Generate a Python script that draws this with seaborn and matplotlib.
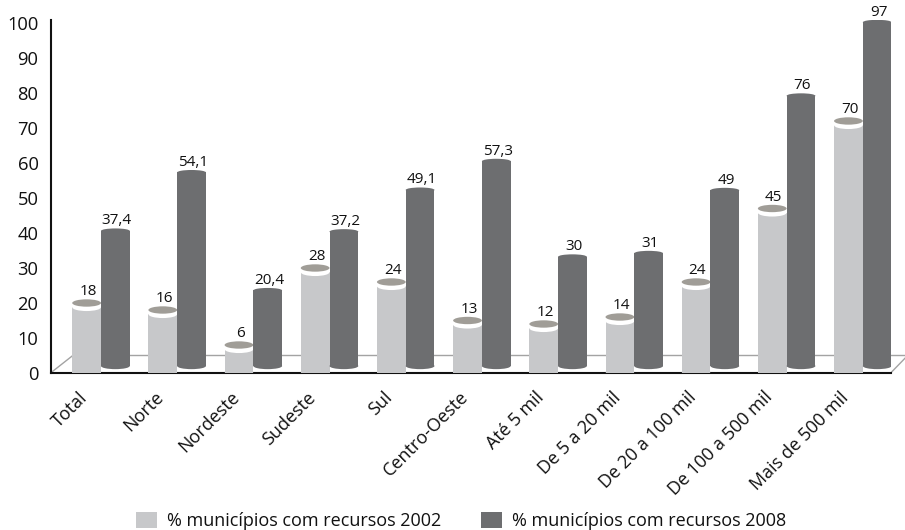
import matplotlib
matplotlib.use("Agg")
import matplotlib.pyplot as plt
from matplotlib.patches import Ellipse
from matplotlib.transforms import ScaledTranslation
import pandas as pd
import seaborn as sns

categories = ["Total", "Norte", "Nordeste", "Sudeste", "Sul", "Centro-Oeste", "Até 5 mil",
              "De 5 a 20 mil", "De 20 a 100 mil", "De 100 a 500 mil", "Mais de 500 mil"]
values_2002 = [18, 16, 6, 28, 24, 13, 12, 14, 24, 45, 70]
values_2008 = [37.4, 54.1, 20.4, 37.2, 49.1, 57.3, 30, 31, 49, 76, 97]
series_names = ["% municípios com recursos 2002", "% municípios com recursos 2008"]

LIGHT, DARK, CAP = "#c7c8ca", "#6d6e70", "#a09d97"

sns.set_theme(style="white")
plt.rcParams["font.family"] = ["Open Sans", "DejaVu Sans"]

df = pd.DataFrame({
    "cat": categories * 2,
    "val": values_2002 + values_2008,
    "serie": [series_names[0]] * len(categories) + [series_names[1]] * len(categories),
})

fig = plt.figure(figsize=(9.05, 5.30), dpi=100)
ax = fig.add_axes([51 / 905, (530 - 373) / 530, 840 / 905, 353 / 530])
sns.barplot(data=df, x="cat", y="val", hue="serie", order=categories, hue_order=series_names,
            palette=[LIGHT, DARK], width=0.755, errorbar=None, saturation=1, linewidth=0, ax=ax)

ax.set_xlim(-0.656, 10.37)
ax.set_ylim(0, 100.85)
ax.set_yticks(range(0, 101, 10))
ax.set_xlabel("")
ax.set_ylabel("")
sns.despine(ax=ax)
for s in ("left", "bottom"):
    ax.spines[s].set_color("#111111")
    ax.spines[s].set_linewidth(1.5)
    ax.spines[s].set_zorder(1.5)
ax.tick_params(axis="y", length=0, labelsize=13.2, pad=9, labelcolor="#111111")
ax.tick_params(axis="x", length=0, pad=11)
ax.set_xticks(range(len(categories)))
ax.set_xticklabels(categories, rotation=45, ha="right", va="top", rotation_mode="anchor",
                   fontsize=13, color="#111111")
shift = ScaledTranslation(-23 / 100, 0, fig.dpi_scale_trans)
for t in ax.get_xticklabels():
    t.set_transform(t.get_transform() + shift)

# perspective floor
FLOOR = 5.0
ax.plot([-0.656, -0.37], [0.1, FLOOR], color="#a3a3a3", lw=1, zorder=0.5, clip_on=False)
ax.plot([-0.37, 10.7], [FLOOR, FLOOR], color="#a3a3a3", lw=1, zorder=0.5, clip_on=False)
ax.plot([10.37, 10.7], [0.1, 7.5], color="#a3a3a3", lw=1, zorder=0.5, clip_on=False)

light_bars, dark_bars = ax.containers[0], ax.containers[1]

for bar, v in zip(light_bars, values_2002):
    cx, w = bar.get_x() + bar.get_width() / 2, bar.get_width()
    bar.set_height(v + 0.8)
    bar.set_zorder(3)
    ax.add_patch(Ellipse((cx, 0.25), w, 1.0, color=LIGHT, lw=0, zorder=3))
    ax.add_patch(Ellipse((cx, v + 0.8), w, 2.2, color="white", lw=0, zorder=3.1))
    ax.add_patch(Ellipse((cx, v + 2.0), w, 2.1, color=CAP, lw=0, zorder=3.2))
    ax.annotate(str(v), (cx, v + 3.0), xytext=(1, 0), textcoords="offset points", ha="center",
                va="bottom", fontsize=11, color="#111111", zorder=5)

for bar, v, in zip(dark_bars, values_2008):
    cx, w = bar.get_x() + bar.get_width() / 2, bar.get_width()
    bar.set_y(2.0)
    bar.set_height(v + 1.2)
    bar.set_zorder(4)
    ax.add_patch(Ellipse((cx, 2.0), w, 1.8, color=DARK, lw=0, zorder=4))
    ax.add_patch(Ellipse((cx, v + 3.2), w, 1.4, color=DARK, lw=0, zorder=4))
    ax.annotate(f"{v:g}".replace(".", ","), (cx, v + 3.9), xytext=(1, 0), textcoords="offset points",
                ha="center", va="bottom", fontsize=11, color="#111111", zorder=5, clip_on=False)

sns.move_legend(ax, "lower left", bbox_to_anchor=(129 / 905, -0.014), bbox_transform=fig.transFigure,
                ncol=2, frameon=False, title=None, fontsize=13, handlelength=1.15, handleheight=1.0,
                handletextpad=0.55, columnspacing=2.2, labelcolor="#111111", borderaxespad=0)

fig.savefig("out.png", dpi=100)
